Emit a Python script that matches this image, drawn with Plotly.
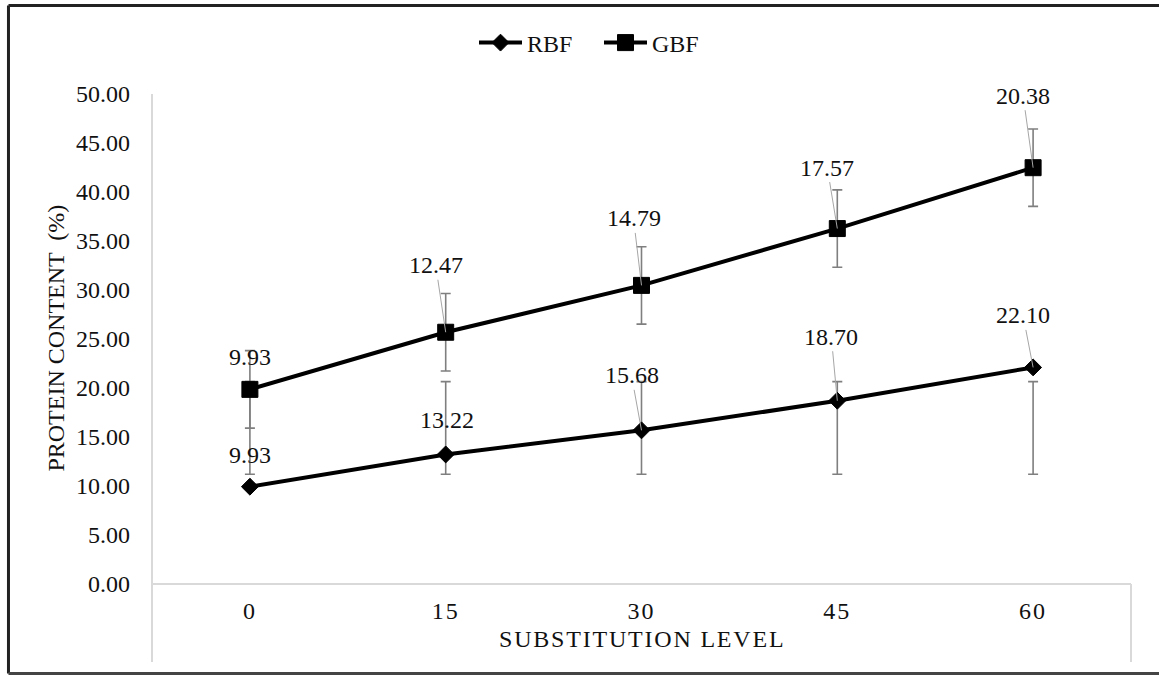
import plotly.graph_objects as go

# ---- data ----
levels = ["0", "15", "30", "45", "60"]
rbf = [9.93, 13.22, 15.68, 18.70, 22.10]
gbf = [9.93, 12.47, 14.79, 17.57, 20.38]
rbf_err_low = [11.20, 11.20, 11.20, 11.20, 11.20]
rbf_err_high = [20.65, 20.65, 20.65, 20.65, 20.65]
gbf_err = [3.95, 3.95, 3.95, 3.95, 3.95]
y_ticks = [0, 5, 10, 15, 20, 25, 30, 35, 40, 45, 50]

# stacked line (Excel "stacked line" chart)
gbf_stack = [a + b for a, b in zip(rbf, gbf)]

FONT = "Liberation Serif, Times New Roman, serif"
FS = 24
TXT = "#111111"

# label offsets (pixels) and leader visibility
rbf_lab = [(0, -32, False), (1, -34, False), (-10, -55, True), (-6, -64, True), (-10, -52, True)]
gbf_lab = [(0, -32, False), (-10, -67, True), (-8, -67, True), (-10, -61, True), (-10, -72, True)]

fig = go.Figure()

# RBF error bars (Excel std-dev style, centred on series mean)
rbf_mid = [(lo + hi) / 2 for lo, hi in zip(rbf_err_low, rbf_err_high)]
rbf_half = [(hi - lo) / 2 for lo, hi in zip(rbf_err_low, rbf_err_high)]
fig.add_trace(go.Scatter(
    x=levels, y=rbf_mid, mode="markers",
    marker=dict(size=1, opacity=0),
    error_y=dict(type="data", array=rbf_half, symmetric=True,
                 color="#7f7f7f", thickness=1.6, width=5),
    showlegend=False, hoverinfo="skip"))

fig.add_trace(go.Scatter(
    x=levels, y=rbf, name="RBF", mode="lines+markers",
    line=dict(color="black", width=4),
    marker=dict(symbol="diamond", size=13, color="black",
                line=dict(color="black", width=1))))

fig.add_trace(go.Scatter(
    x=levels, y=gbf_stack, name="GBF", mode="lines+markers",
    line=dict(color="black", width=4),
    marker=dict(symbol="square", size=16, color="black",
                line=dict(color="black", width=1)),
    error_y=dict(type="data", array=gbf_err, symmetric=True,
                 color="#7f7f7f", thickness=1.6, width=5)))

ann = []
for vals, labs, offs in ((rbf, rbf, rbf_lab), (gbf_stack, gbf, gbf_lab)):
    for i, (v, lab) in enumerate(zip(vals, labs)):
        ax, ay, lead = offs[i]
        ann.append(dict(
            x=i, y=v, xref="x", yref="y", text=f"{lab:.2f}",
            showarrow=True, ax=ax, ay=ay, arrowhead=0, arrowwidth=1,
            arrowcolor="#a6a6a6" if lead else "rgba(0,0,0,0)", standoff=0,
            font=dict(family=FONT, size=FS, color=TXT)))

# axis titles
ann.append(dict(
    x=0.5, y=-0.112, xref="paper", yref="paper", showarrow=False,
    text='<span style="letter-spacing:1.8px">SUBSTITUTION LEVEL</span>',
    font=dict(family=FONT, size=FS, color=TXT),
    xanchor="center", yanchor="middle"))
ann.append(dict(
    x=-0.099, y=0.501, xref="paper", yref="paper", showarrow=False,
    text="PROTEIN CONTENT  (%)", textangle=-90,
    font=dict(family=FONT, size=FS, color=TXT),
    xanchor="center", yanchor="middle"))

shapes = [
    dict(type="line", xref="paper", yref="paper", x0=0, x1=0, y0=-0.159, y1=1,
         line=dict(color="#d9d9d9", width=2)),
    dict(type="line", xref="paper", yref="paper", x0=1, x1=1, y0=-0.159, y1=0,
         line=dict(color="#d9d9d9", width=2)),
    dict(type="line", xref="paper", yref="paper", x0=0, x1=1, y0=0, y1=0,
         line=dict(color="#d9d9d9", width=2)),
    # outer frame (left, top, bottom)
    dict(type="line", xref="paper", yref="paper", x0=-0.1466, x1=-0.1466, y0=-0.1827, y1=1.1806,
         line=dict(color="#222222", width=3)),
    dict(type="line", xref="paper", yref="paper", x0=-0.1466, x1=1.1, y0=1.1806, y1=1.1806,
         line=dict(color="#222222", width=3)),
    dict(type="line", xref="paper", yref="paper", x0=-0.1466, x1=1.1, y0=-0.1827, y1=-0.1827,
         line=dict(color="#444444", width=3)),
]

fig.update_layout(
    width=1159, height=675,
    margin=dict(l=152, r=28, t=94, b=91),
    paper_bgcolor="white", plot_bgcolor="white",
    font=dict(family=FONT, size=FS, color=TXT),
    showlegend=True,
    legend=dict(orientation="h", xref="container", yref="container",
                x=474 / 1159, y=1 - 43 / 675, xanchor="left", yanchor="middle",
                font=dict(family=FONT, size=FS, color=TXT), itemwidth=43,
                entrywidth=67, bgcolor="rgba(0,0,0,0)"),
    xaxis=dict(type="category", range=[-0.5, 4.5], showgrid=False, zeroline=False,
               showline=False, ticks="", tickvals=levels,
               ticktext=[f'<span style="letter-spacing:2px">{c}</span>' for c in levels],
               ticklabelstandoff=10, tickfont=dict(family=FONT, size=FS, color=TXT)),
    yaxis=dict(range=[0, 50], tickvals=y_ticks, tickformat=".2f", showgrid=False,
               zeroline=False, showline=False, ticks="", ticklabelstandoff=21,
               tickfont=dict(family=FONT, size=FS, color=TXT)),
    annotations=ann, shapes=shapes,
)

fig.write_html("out.html", config={"displayModeBar": False},
               post_script="document.body.style.margin='0px';")
